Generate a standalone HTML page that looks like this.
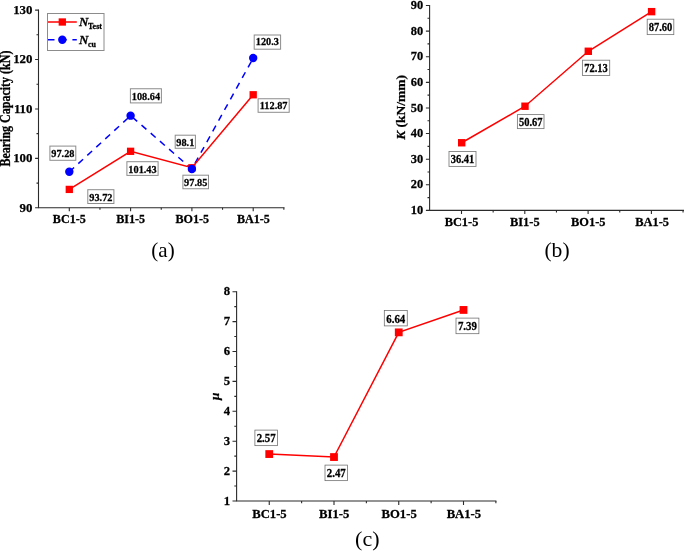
<!DOCTYPE html>
<html><head><meta charset="utf-8"><title>Figure</title>
<style>
html,body{margin:0;padding:0;background:#fff;}
svg{display:block;}
text{font-family:"Liberation Serif","Times New Roman",serif;fill:#000;}
.b{font-weight:bold;stroke:#000;stroke-width:0.25;}
.tk{stroke:#2b2b2b;stroke-width:1.1;fill:none;}
.red{stroke:#ff0000;stroke-width:1.5;fill:none;}
.blue{stroke:#0000ff;stroke-width:1.5;fill:none;stroke-dasharray:6.5 5.7;}
.box{fill:#fff;}
</style></head><body>
<svg width="685" height="552" viewBox="0 0 685 552">
<rect width="685" height="552" fill="#fff"/>

<path class="tk" d="M38.5 9.6V207.8H284.5"/>
<path class="tk" d="M38.5 207.8h-3.4M38.5 183.09h-2.0M38.5 158.38h-3.4M38.5 133.66h-2.0M38.5 108.95h-3.4M38.5 84.24h-2.0M38.5 59.53h-3.4M38.5 34.81h-2.0M38.5 10.1h-3.4M69.3 207.8v3.4M99.95 207.8v2.0M130.6 207.8v3.4M161.25 207.8v2.0M191.9 207.8v3.4M222.55 207.8v2.0M253.2 207.8v3.4M283.85 207.8v2.0"/>
<text class="b" transform="translate(32.5,211.67) scale(1,1.0)" font-size="12.9" text-anchor="end">90</text>
<text class="b" transform="translate(32.5,162.25) scale(1,1.0)" font-size="12.9" text-anchor="end">100</text>
<text class="b" transform="translate(32.5,112.82) scale(1,1.0)" font-size="12.9" text-anchor="end">110</text>
<text class="b" transform="translate(32.5,63.4) scale(1,1.0)" font-size="12.9" text-anchor="end">120</text>
<text class="b" transform="translate(32.5,13.97) scale(1,1.0)" font-size="12.9" text-anchor="end">130</text>
<text class="b" transform="translate(69.3,223.3) scale(1,1.06)" font-size="12.1" text-anchor="middle">BC1-5</text>
<text class="b" transform="translate(130.6,223.3) scale(1,1.06)" font-size="12.1" text-anchor="middle">BI1-5</text>
<text class="b" transform="translate(192.3,223.3) scale(1,1.06)" font-size="12.1" text-anchor="middle">BO1-5</text>
<text class="b" transform="translate(253.4,223.3) scale(1,1.06)" font-size="12.1" text-anchor="middle">BA1-5</text>
<polyline class="blue" points="69.3,171.82 130.6,115.67 191.9,169 253.2,58.04"/>
<polyline class="red" points="69.3,189.41 130.6,151.31 191.9,167.77 253.2,94.77"/>
<rect x="65.65" y="185.76" width="7.3" height="7.3" fill="#ff0000"/>
<rect x="126.95" y="147.66" width="7.3" height="7.3" fill="#ff0000"/>
<rect x="188.25" y="164.12" width="7.3" height="7.3" fill="#ff0000"/>
<rect x="249.55" y="91.12" width="7.3" height="7.3" fill="#ff0000"/>
<circle cx="69.3" cy="171.82" r="4.2" fill="#0000ff"/>
<circle cx="130.6" cy="115.67" r="4.2" fill="#0000ff"/>
<circle cx="191.9" cy="169" r="4.2" fill="#0000ff"/>
<circle cx="253.2" cy="58.04" r="4.2" fill="#0000ff"/>
<rect class="box" x="49.9" y="146.1" width="25.9" height="14.2" stroke="#8c8c8c" stroke-width="1.0"/>
<text class="b" transform="translate(62.85,157.16) scale(1,1.06)" font-size="10.3" text-anchor="middle">97.28</text>
<rect class="box" x="87.8" y="189.7" width="26.1" height="13.8" stroke="#8c8c8c" stroke-width="1.0"/>
<text class="b" transform="translate(100.85,200.56) scale(1,1.06)" font-size="10.3" text-anchor="middle">93.72</text>
<rect class="box" x="130.4" y="88.75" width="31" height="14.15" stroke="#8c8c8c" stroke-width="1.0"/>
<text class="b" transform="translate(145.9,99.78) scale(1,1.06)" font-size="10.3" text-anchor="middle">108.64</text>
<rect class="box" x="126.9" y="161.7" width="31.2" height="13.7" stroke="#8c8c8c" stroke-width="1.0"/>
<text class="b" transform="translate(142.5,172.51) scale(1,1.06)" font-size="10.3" text-anchor="middle">101.43</text>
<rect class="box" x="175.2" y="135.2" width="20.2" height="13.1" stroke="#8c8c8c" stroke-width="1.0"/>
<text class="b" transform="translate(185.3,145.71) scale(1,1.06)" font-size="10.3" text-anchor="middle">98.1</text>
<rect class="box" x="182.9" y="175.2" width="25.6" height="13.55" stroke="#8c8c8c" stroke-width="1.0"/>
<text class="b" transform="translate(195.7,185.93) scale(1,1.06)" font-size="10.3" text-anchor="middle">97.85</text>
<rect class="box" x="254.2" y="35" width="26.4" height="14.2" stroke="#8c8c8c" stroke-width="1.0"/>
<text class="b" transform="translate(267.4,45.36) scale(1,1.06)" font-size="10.3" text-anchor="middle">120.3</text>
<rect class="box" x="258.1" y="98.75" width="31.1" height="13.55" stroke="#8c8c8c" stroke-width="1.0"/>
<text class="b" transform="translate(273.65,109.48) scale(1,1.06)" font-size="10.3" text-anchor="middle">112.87</text>
<rect class="box" x="47.5" y="13.5" width="56.5" height="37" stroke="#8c8c8c" stroke-width="1"/>
<path class="red" d="M48 22H76.8"/>
<rect x="58.65" y="18.35" width="7.3" height="7.3" fill="#ff0000"/>
<path class="blue" d="M48 39.8H76.8"/>
<circle cx="62.3" cy="39.8" r="4.2" fill="#0000ff"/>
<text class="b" transform="translate(79,26) scale(1,1.02)" font-size="13" text-anchor="start"><tspan font-style="italic">N</tspan><tspan font-size="8" dy="3.1" dx="-0.4">Test</tspan></text>
<text class="b" transform="translate(79,43.8) scale(1,1.02)" font-size="13" text-anchor="start"><tspan font-style="italic">N</tspan><tspan font-size="8" dy="3.3" dx="-0.4">cu</tspan></text>
<text class="b" transform="translate(9.5,108.6) rotate(-90) scale(1,1.2)" font-size="12" text-anchor="middle">Bearing Capacity (kN)</text>
<text x="163" y="257" font-size="21" text-anchor="middle">(a)</text>
<path class="tk" d="M429.6 5V210.4H684"/>
<path class="tk" d="M429.6 210.4h-3.7M429.6 197.59h-2.1M429.6 184.79h-3.7M429.6 171.98h-2.1M429.6 159.18h-3.7M429.6 146.37h-2.1M429.6 133.56h-3.7M429.6 120.76h-2.1M429.6 107.95h-3.7M429.6 95.14h-2.1M429.6 82.34h-3.7M429.6 69.53h-2.1M429.6 56.72h-3.7M429.6 43.92h-2.1M429.6 31.11h-3.7M429.6 18.31h-2.1M429.6 5.5h-3.7M461.5 210.4v3.7M493.15 210.4v2.1M524.8 210.4v3.7M556.45 210.4v2.1M588.1 210.4v3.7M619.75 210.4v2.1M651.4 210.4v3.7M683.05 210.4v2.1"/>
<text class="b" transform="translate(423.1,214.08) scale(1,1.04)" font-size="12.4" text-anchor="end">10</text>
<text class="b" transform="translate(423.1,188.46) scale(1,1.04)" font-size="12.4" text-anchor="end">20</text>
<text class="b" transform="translate(423.1,162.85) scale(1,1.04)" font-size="12.4" text-anchor="end">30</text>
<text class="b" transform="translate(423.1,137.24) scale(1,1.04)" font-size="12.4" text-anchor="end">40</text>
<text class="b" transform="translate(423.1,111.63) scale(1,1.04)" font-size="12.4" text-anchor="end">50</text>
<text class="b" transform="translate(423.1,86.01) scale(1,1.04)" font-size="12.4" text-anchor="end">60</text>
<text class="b" transform="translate(423.1,60.4) scale(1,1.04)" font-size="12.4" text-anchor="end">70</text>
<text class="b" transform="translate(423.1,34.79) scale(1,1.04)" font-size="12.4" text-anchor="end">80</text>
<text class="b" transform="translate(423.1,9.18) scale(1,1.04)" font-size="12.4" text-anchor="end">90</text>
<text class="b" transform="translate(461.5,226.1) scale(1,1.04)" font-size="12.4" text-anchor="middle">BC1-5</text>
<text class="b" transform="translate(524.8,226.1) scale(1,1.04)" font-size="12.4" text-anchor="middle">BI1-5</text>
<text class="b" transform="translate(588.3,226.1) scale(1,1.04)" font-size="12.4" text-anchor="middle">BO1-5</text>
<text class="b" transform="translate(652.1,226.1) scale(1,1.04)" font-size="12.4" text-anchor="middle">BA1-5</text>
<polyline class="red" points="461.7,142.76 525,106.23 588.3,51.27 651.6,11.65"/>
<rect x="458" y="139.06" width="7.4" height="7.4" fill="#ff0000"/>
<rect x="521.3" y="102.53" width="7.4" height="7.4" fill="#ff0000"/>
<rect x="584.6" y="47.57" width="7.4" height="7.4" fill="#ff0000"/>
<rect x="647.9" y="7.95" width="7.4" height="7.4" fill="#ff0000"/>
<rect class="box" x="449" y="151.5" width="27" height="14.9" stroke="#7a7a7a" stroke-width="0.85"/>
<text class="b" transform="translate(462.5,163.3) scale(1,1.1)" font-size="10.5" text-anchor="middle">36.41</text>
<rect class="box" x="517.4" y="114.6" width="26.6" height="14" stroke="#7a7a7a" stroke-width="0.85"/>
<text class="b" transform="translate(530.7,125.9) scale(1,1.1)" font-size="10.5" text-anchor="middle">50.67</text>
<rect class="box" x="582.4" y="60.2" width="27.3" height="15.3" stroke="#7a7a7a" stroke-width="0.85"/>
<text class="b" transform="translate(596.05,72.24) scale(1,1.1)" font-size="10.5" text-anchor="middle">72.13</text>
<rect class="box" x="647.2" y="19.2" width="26.6" height="15.4" stroke="#7a7a7a" stroke-width="0.85"/>
<text class="b" transform="translate(660.5,31.47) scale(1,1.1)" font-size="10.5" text-anchor="middle">87.60</text>
<text class="b" transform="translate(405.2,107.4) rotate(-90) scale(1,1.0)" font-size="13.5" text-anchor="middle"><tspan font-style="italic">K</tspan> (kN/mm)</text>
<text x="557" y="257.3" font-size="21.6" text-anchor="middle">(b)</text>
<path class="tk" d="M236.6 291.2V501.0H496.4"/>
<path class="tk" d="M236.6 501h-4.1M236.6 486.05h-2.3M236.6 471.1h-4.1M236.6 456.15h-2.3M236.6 441.2h-4.1M236.6 426.25h-2.3M236.6 411.3h-4.1M236.6 396.35h-2.3M236.6 381.4h-4.1M236.6 366.45h-2.3M236.6 351.5h-4.1M236.6 336.55h-2.3M236.6 321.6h-4.1M236.6 306.65h-2.3M236.6 291.7h-4.1M269.25 501.0v4.1M301.62 501.0v2.3M334 501.0v4.1M366.38 501.0v2.3M398.75 501.0v4.1M431.12 501.0v2.3M463.5 501.0v4.1M495.88 501.0v2.3"/>
<text class="b" transform="translate(230,504.7) scale(1,1.04)" font-size="12.7" text-anchor="end">1</text>
<text class="b" transform="translate(230,474.8) scale(1,1.04)" font-size="12.7" text-anchor="end">2</text>
<text class="b" transform="translate(230,444.9) scale(1,1.04)" font-size="12.7" text-anchor="end">3</text>
<text class="b" transform="translate(230,415) scale(1,1.04)" font-size="12.7" text-anchor="end">4</text>
<text class="b" transform="translate(230,385.1) scale(1,1.04)" font-size="12.7" text-anchor="end">5</text>
<text class="b" transform="translate(230,355.2) scale(1,1.04)" font-size="12.7" text-anchor="end">6</text>
<text class="b" transform="translate(230,325.3) scale(1,1.04)" font-size="12.7" text-anchor="end">7</text>
<text class="b" transform="translate(230,295.4) scale(1,1.04)" font-size="12.7" text-anchor="end">8</text>
<text class="b" transform="translate(269.45,517.6) scale(1,1.04)" font-size="12.7" text-anchor="middle">BC1-5</text>
<text class="b" transform="translate(334.2,517.6) scale(1,1.04)" font-size="12.7" text-anchor="middle">BI1-5</text>
<text class="b" transform="translate(399.15,517.6) scale(1,1.04)" font-size="12.7" text-anchor="middle">BO1-5</text>
<text class="b" transform="translate(463.9,517.6) scale(1,1.04)" font-size="12.7" text-anchor="middle">BA1-5</text>
<polyline class="red" points="269.25,454.06 334,457.05 398.75,332.36 463.5,309.94"/>
<rect x="265.35" y="450.16" width="7.8" height="7.8" fill="#ff0000"/>
<rect x="330.1" y="453.15" width="7.8" height="7.8" fill="#ff0000"/>
<rect x="394.85" y="328.46" width="7.8" height="7.8" fill="#ff0000"/>
<rect x="459.6" y="306.04" width="7.8" height="7.8" fill="#ff0000"/>
<rect class="box" x="254.9" y="430.1" width="22.6" height="15.55" stroke="#6a6a6a" stroke-width="0.75"/>
<text class="b" transform="translate(266.2,442.26) scale(1,1.09)" font-size="10.9" text-anchor="middle">2.57</text>
<rect class="box" x="325" y="465.1" width="22.5" height="15.55" stroke="#6a6a6a" stroke-width="0.75"/>
<text class="b" transform="translate(336.25,477.26) scale(1,1.09)" font-size="10.9" text-anchor="middle">2.47</text>
<rect class="box" x="384.3" y="310.5" width="22.95" height="15.4" stroke="#6a6a6a" stroke-width="0.75"/>
<text class="b" transform="translate(395.77,322.58) scale(1,1.09)" font-size="10.9" text-anchor="middle">6.64</text>
<rect class="box" x="456" y="318.1" width="22.9" height="15.6" stroke="#6a6a6a" stroke-width="0.75"/>
<text class="b" transform="translate(467.45,330.28) scale(1,1.09)" font-size="10.9" text-anchor="middle">7.39</text>
<text class="b" transform="translate(218.5,396.4) rotate(-90) scale(1,1.0)" font-size="13.2" text-anchor="middle" font-style="italic">μ</text>
<text x="367.3" y="545.7" font-size="22" text-anchor="middle">(c)</text>
</svg></body></html>
